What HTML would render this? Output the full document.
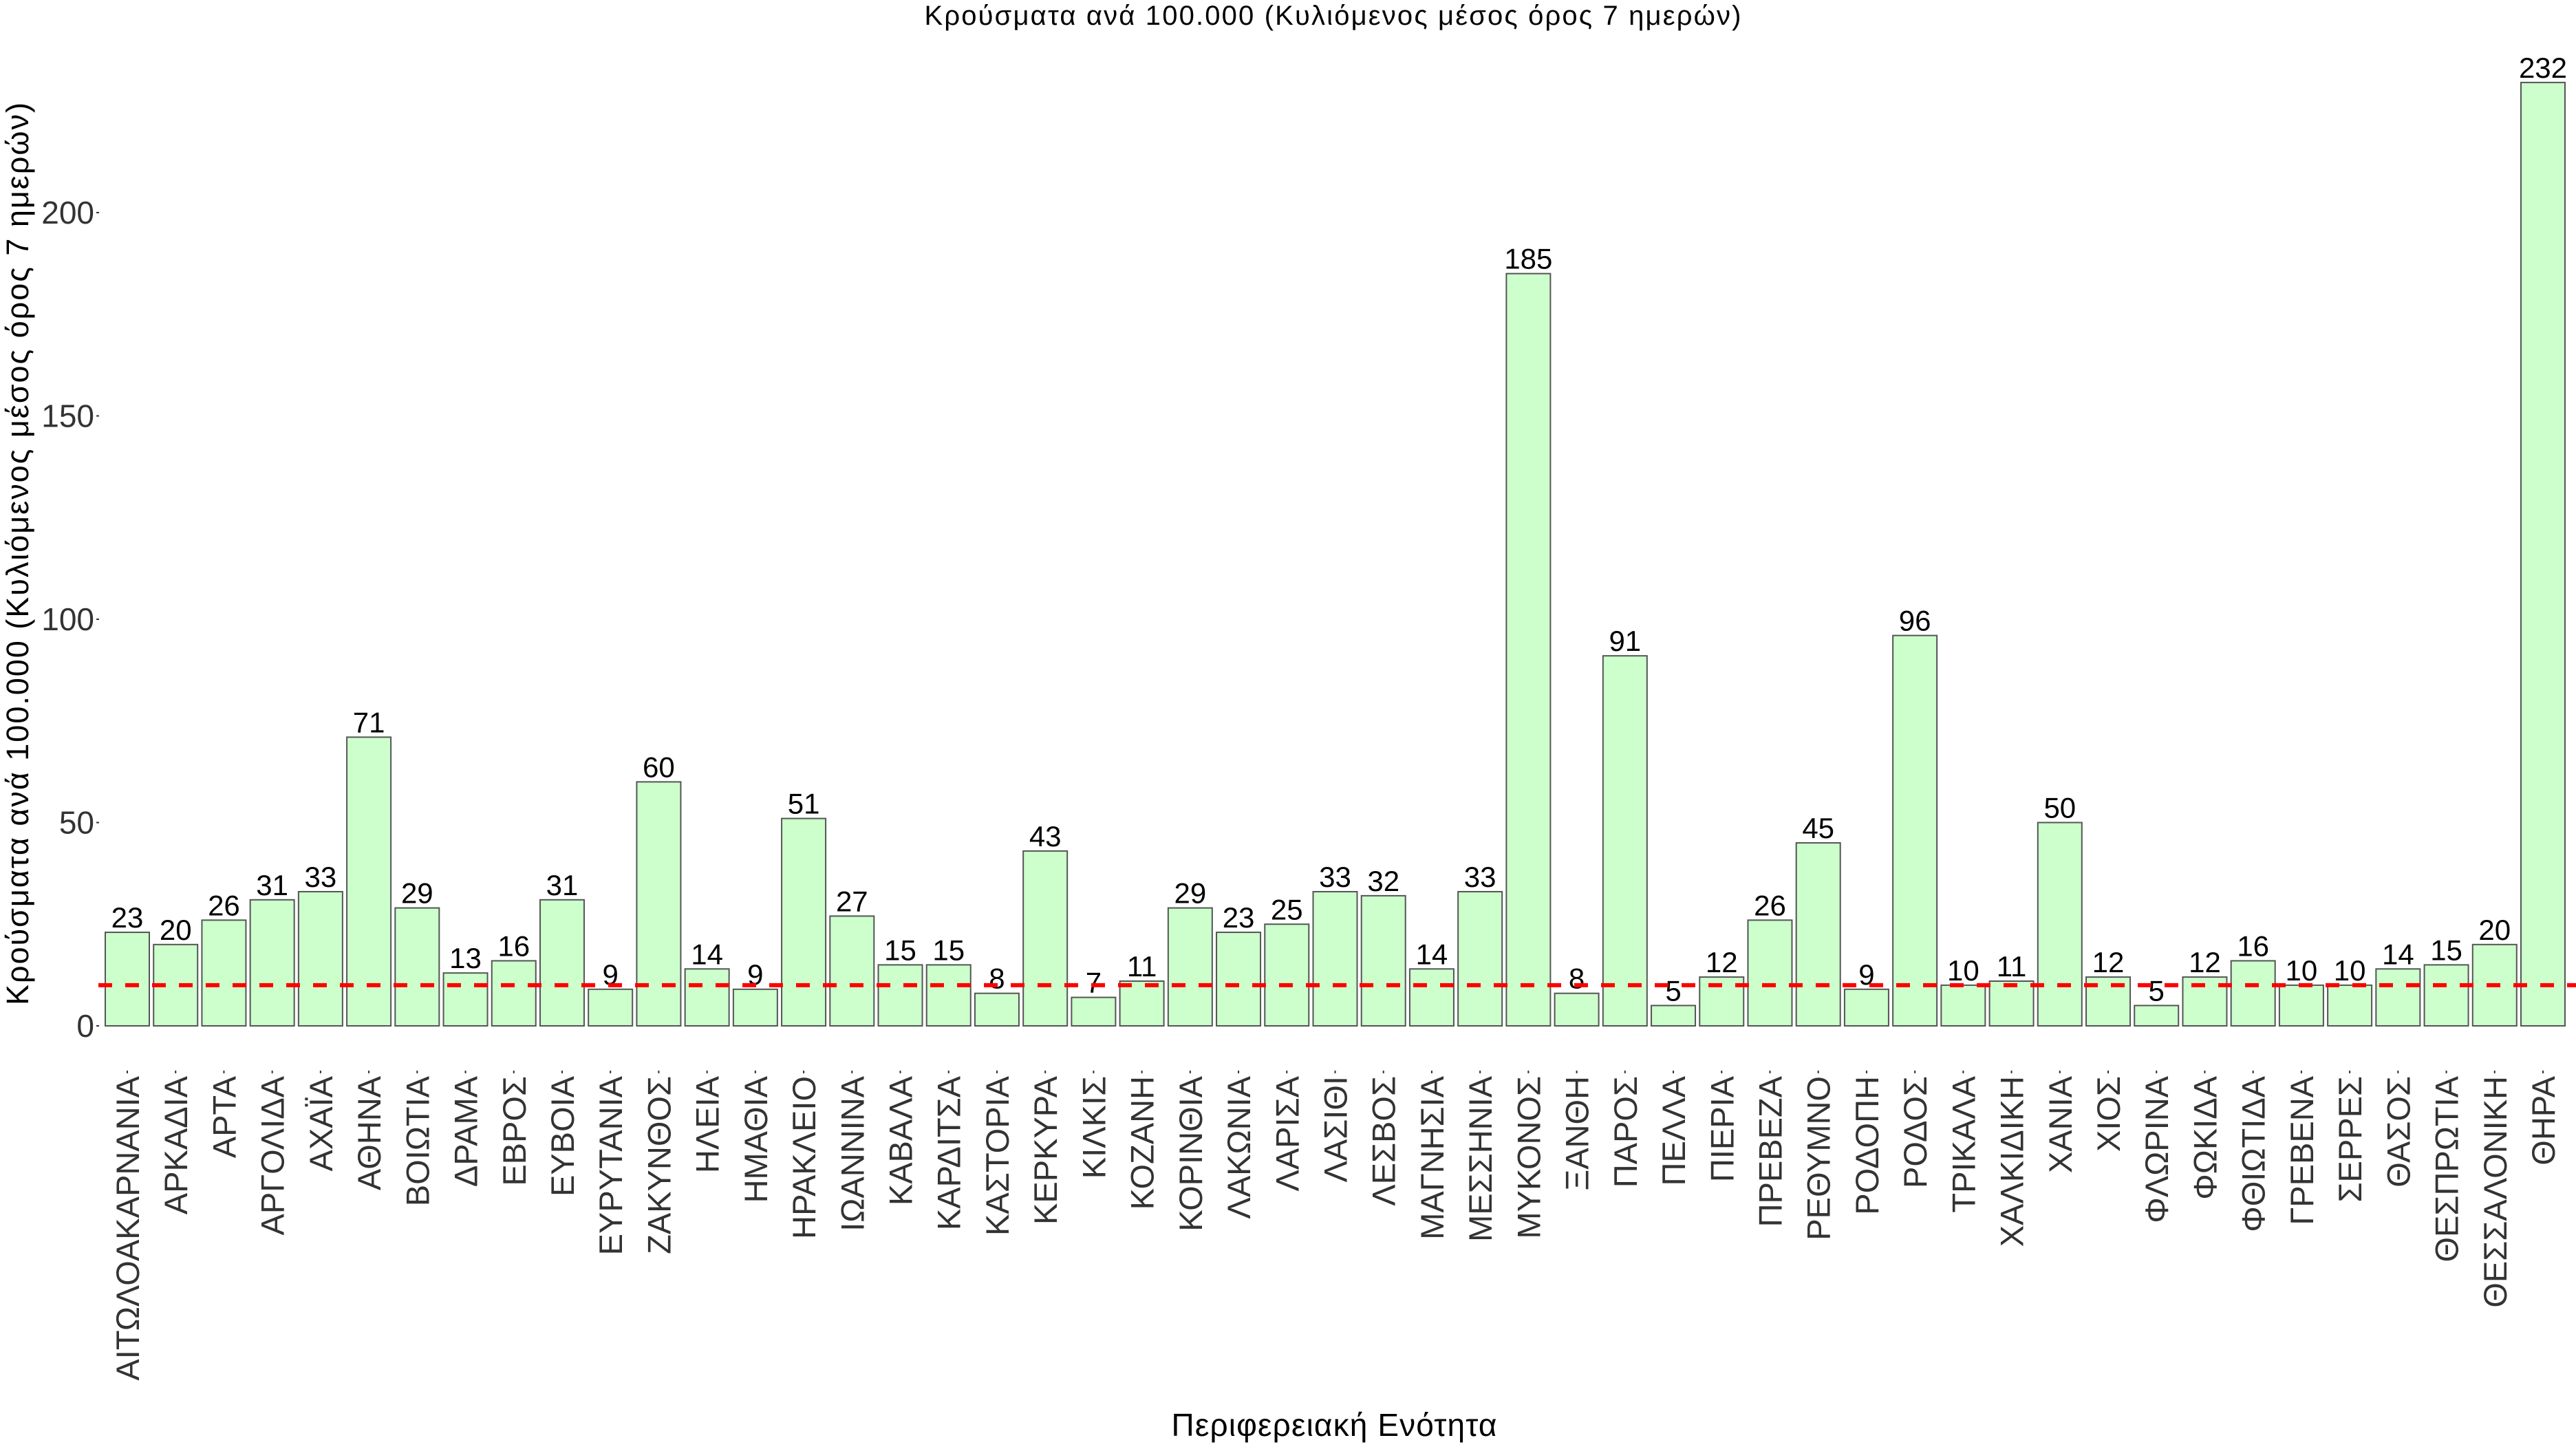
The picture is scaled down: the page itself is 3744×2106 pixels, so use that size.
<!DOCTYPE html>
<html><head><meta charset="utf-8"><style>
html,body{margin:0;padding:0;background:#fff;}
svg{display:block;font-family:"Liberation Sans",Arial,sans-serif;}
</style></head><body>
<svg id="chart" width="3744" height="2106" viewBox="0 0 3744 2106" xmlns="http://www.w3.org/2000/svg">
<text x="1937" y="36" font-size="40" text-anchor="middle" textLength="1187" fill="#000">Κρούσματα ανά 100.000 (Κυλιόμενος μέσος όρος 7 ημερών)</text>
<text x="1939" y="2087" font-size="46" text-anchor="middle" textLength="473" fill="#000">Περιφερειακή Ενότητα</text>
<text transform="translate(41,805) rotate(-90)" font-size="45" text-anchor="middle" textLength="1312" fill="#000">Κρούσματα ανά 100.000 (Κυλιόμενος μέσος όρος 7 ημερών)</text>
<g id="yaxis"></g>
<g id="bars"></g>
<g id="xaxis"></g>
<line id="refline" stroke="#ff0000" stroke-width="6" stroke-dasharray="20,19"></line>
</svg>
<script>
const categories = ["ΑΙΤΩΛΟΑΚΑΡΝΑΝΙΑ","ΑΡΚΑΔΙΑ","ΑΡΤΑ","ΑΡΓΟΛΙΔΑ","ΑΧΑΪΑ","ΑΘΗΝΑ","ΒΟΙΩΤΙΑ","ΔΡΑΜΑ","ΕΒΡΟΣ","ΕΥΒΟΙΑ","ΕΥΡΥΤΑΝΙΑ","ΖΑΚΥΝΘΟΣ","ΗΛΕΙΑ","ΗΜΑΘΙΑ","ΗΡΑΚΛΕΙΟ","ΙΩΑΝΝΙΝΑ","ΚΑΒΑΛΑ","ΚΑΡΔΙΤΣΑ","ΚΑΣΤΟΡΙΑ","ΚΕΡΚΥΡΑ","ΚΙΛΚΙΣ","ΚΟΖΑΝΗ","ΚΟΡΙΝΘΙΑ","ΛΑΚΩΝΙΑ","ΛΑΡΙΣΑ","ΛΑΣΙΘΙ","ΛΕΣΒΟΣ","ΜΑΓΝΗΣΙΑ","ΜΕΣΣΗΝΙΑ","ΜΥΚΟΝΟΣ","ΞΑΝΘΗ","ΠΑΡΟΣ","ΠΕΛΛΑ","ΠΙΕΡΙΑ","ΠΡΕΒΕΖΑ","ΡΕΘΥΜΝΟ","ΡΟΔΟΠΗ","ΡΟΔΟΣ","ΤΡΙΚΑΛΑ","ΧΑΛΚΙΔΙΚΗ","ΧΑΝΙΑ","ΧΙΟΣ","ΦΛΩΡΙΝΑ","ΦΩΚΙΔΑ","ΦΘΙΩΤΙΔΑ","ΓΡΕΒΕΝΑ","ΣΕΡΡΕΣ","ΘΑΣΟΣ","ΘΕΣΠΡΩΤΙΑ","ΘΕΣΣΑΛΟΝΙΚΗ","ΘΗΡΑ"];
const values = [23,20,26,31,33,71,29,13,16,31,9,60,14,9,51,27,15,15,8,43,7,11,29,23,25,33,32,14,33,185,8,91,5,12,26,45,9,96,10,11,50,12,5,12,16,10,10,14,15,20,232];
const yTicks = [0,50,100,150,200];
const threshold = [10];

const NS="http://www.w3.org/2000/svg";
const Y0=1491, PXU=5.91, X0=153, BAND=70.22, BW=64;
const y=v=>Y0-v*PXU;
const xl=i=>X0+i*BAND;
function mk(tag,attrs,parent){const e=document.createElementNS(NS,tag);for(const k in attrs)e.setAttribute(k,attrs[k]);parent.appendChild(e);return e;}
const gy=document.getElementById('yaxis'),gb=document.getElementById('bars'),gx=document.getElementById('xaxis');
yTicks.forEach(t=>{
  const tk=mk('line',{x1:140,x2:144,y1:y(t),y2:y(t),stroke:'#333','stroke-width':2},gy);
  
  
  const lb=mk('text',{x:137,y:y(t)+16,'font-size':46,'text-anchor':'end',fill:'#333'},gy);
  lb.textContent=t;
  
  
});
values.forEach((v,i)=>{
  const r=mk('rect',{x:xl(i),y:y(v),width:BW,height:v*PXU,fill:'#ccffcc',stroke:'#555','stroke-width':2},gb);
  
  
  const t=mk('text',{x:xl(i)+BW/2,y:y(v)-7,'font-size':42,'text-anchor':'middle',fill:'#000'},gb);
  t.textContent=v;
  
  
  const cx=xl(i)+BW/2;
  const tk=mk('line',{x1:cx,x2:cx,y1:1556,y2:1560,stroke:'#333','stroke-width':2},gx);
  
  
  const lb=mk('text',{transform:`translate(${cx+17},1564) rotate(-90)`,'font-size':47,'text-anchor':'end',fill:'#333'},gx);
  lb.textContent=categories[i];
  
  
});
const rl=document.getElementById('refline');
rl.setAttribute('x1',143);rl.setAttribute('x2',3744);
rl.setAttribute('y1',y(threshold[0]));rl.setAttribute('y2',y(threshold[0]));
</script>
</body></html>
